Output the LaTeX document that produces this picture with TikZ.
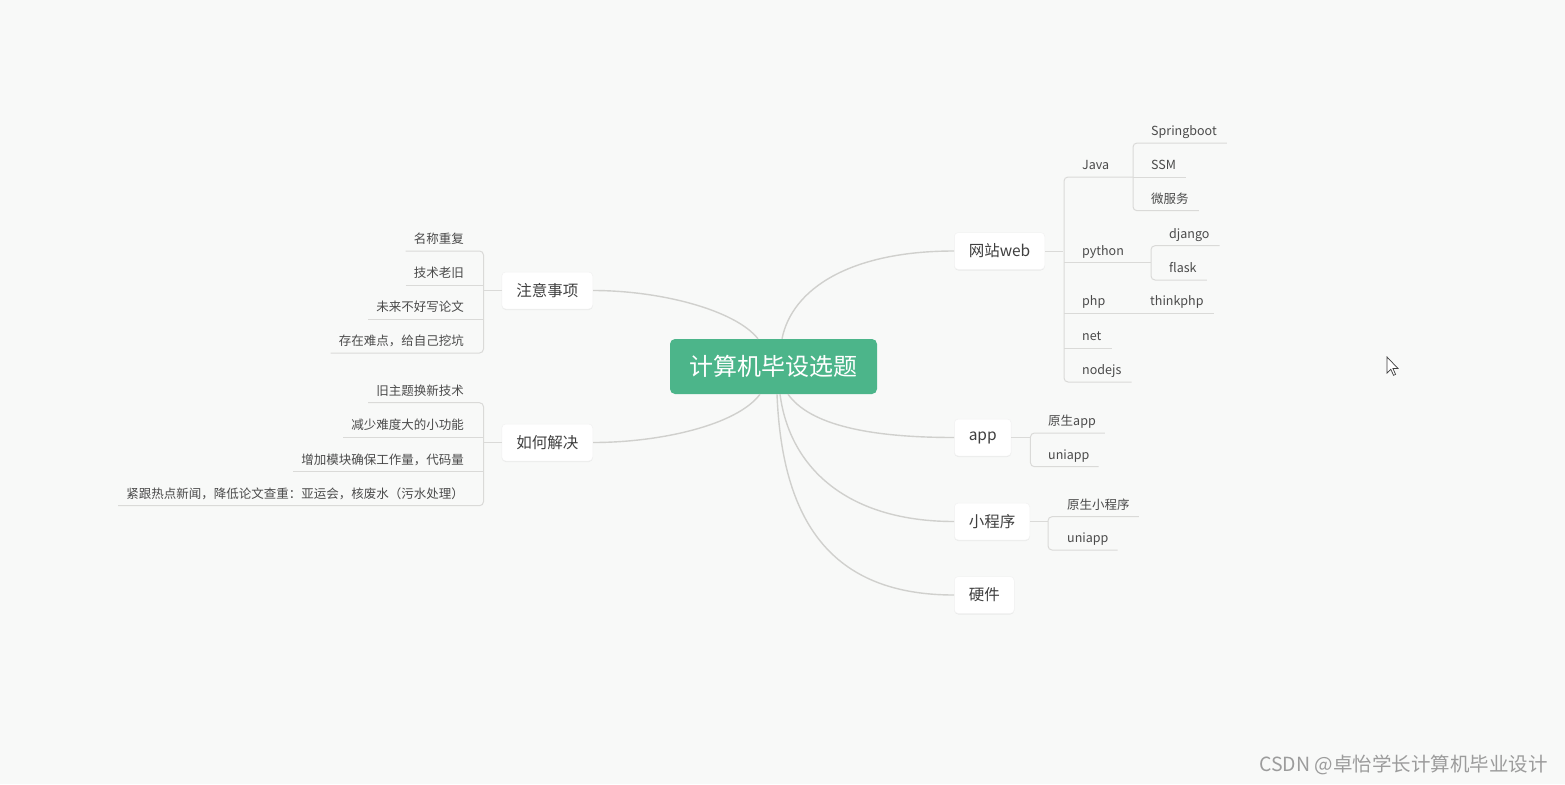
\documentclass[tikz,border=0pt]{standalone}
\usepackage{fontspec}
\setmainfont{Noto Sans CJK SC}
\usetikzlibrary{shadows}
\definecolor{bgc}{HTML}{F8F9F8}
\definecolor{greenc}{HTML}{4CB58A}
\definecolor{curvec}{HTML}{D0D0CD}
\definecolor{leafline}{HTML}{DADAD8}
\definecolor{txtc}{HTML}{3F3F3F}
\definecolor{leaftxt}{HTML}{4A4A4A}
\definecolor{wmc}{HTML}{9C9C9C}
\begin{document}
\begin{tikzpicture}[x=1pt,y=-1pt,
  root/.style={fill=greenc, rounded corners=5pt, text=white, font=\fontsize{24}{28}\selectfont, minimum width=207pt, minimum height=55pt, inner sep=0pt},
  topic/.style={fill=white, rounded corners=4pt, draw=black!5, line width=0.5pt, text=txtc, font=\fontsize{15.5}{18}\selectfont, minimum height=37pt, inner xsep=14.5pt, inner ysep=0pt, drop shadow={shadow xshift=0pt, shadow yshift=-1pt, opacity=0.06, fill=black}},
  leaf/.style={text=leaftxt, font=\fontsize{12.5}{15}\selectfont, inner sep=0pt},
  leafR/.style={leaf, anchor=base west},
  leafL/.style={leaf, anchor=base east},
  curve/.style={draw=curvec, line width=1.4pt},
  lline/.style={draw=leafline, line width=1pt, rounded corners=4pt},
  cursorsh/.style={fill=white, draw=black!75, line width=0.7pt, line join=miter}
]
\fill[bgc] (0,0) rectangle (1565,784);
\useasboundingbox (0,0) rectangle (1565,784);

% ---- main nodes
\node[root] (c) at (773.5,366.5) {计算机毕设选题};
\node[topic, anchor=east] (zy) at (593,290.5) {注意事项};
\node[topic, anchor=east] (rh) at (593,442.5) {如何解决};
\node[topic, anchor=west] (web) at (954,251) {网站web};
\node[topic, anchor=west] (app) at (954,437.5) {app};
\node[topic, anchor=west] (xcx) at (954,521.5) {小程序};
\node[topic, anchor=west] (yj) at (954,595) {硬件};

% ---- main curves
\draw[curve] ([xshift=-15.5]c.north) .. controls +(-23,-29) and +(67,0) .. (zy.east);
\draw[curve] ([xshift=-13.5]c.south) .. controls +(-23,31) and +(67,0) .. (rh.east);
\draw[curve] ([xshift=8.5]c.north) .. controls +(10,-50) and +(-104,0) .. (web.west);
\draw[curve] ([xshift=14.5]c.south) .. controls +(22,31) and +(-84,0) .. (app.west);
\draw[curve] ([xshift=6.5]c.south) .. controls +(10,76) and +(-104,0) .. (xcx.west);
\draw[curve] ([xshift=3.5]c.south) .. controls +(5,126) and +(-124,0) .. (yj.west);

% ---- 注意事项
\node[leafL] (a1) at (464,243.7) {名称重复};
\node[leafL] (a2) at (464,277.7) {技术老旧};
\node[leafL] (a3) at (464,311.7) {未来不好写论文};
\node[leafL] (a4) at (464,345.7) {存在难点，给自己挖坑};
\coordinate (zyj) at ([xshift=-18]zy.west);
\foreach \n in {a1,a2,a3,a4}{\coordinate (\n u) at ([shift={(-8,7.3)}]\n.base west);}
\draw[lline] (a1u) -- (a1u -| zyj) -- (a4u -| zyj) -- (a4u);
\draw[lline] (a2u) -- (a2u -| zyj);
\draw[lline] (a3u) -- (a3u -| zyj);
\draw[lline] (zy.west) -- (zyj);

% ---- 如何解决
\node[leafL] (b1) at (464,395.4) {旧主题换新技术};
\node[leafL] (b2) at (464,429.7) {减少难度大的小功能};
\node[leafL] (b3) at (464,464.4) {增加模块确保工作量，代码量};
\node[leafL] (b4) at (464,498.4) {紧跟热点新闻，降低论文查重：亚运会，核废水（污水处理）};
\coordinate (rhj) at ([xshift=-18]rh.west);
\foreach \n in {b1,b2,b3,b4}{\coordinate (\n u) at ([shift={(-8,7.3)}]\n.base west);}
\draw[lline] (b1u) -- (b1u -| rhj) -- (b4u -| rhj) -- (b4u);
\draw[lline] (b2u) -- (b2u -| rhj);
\draw[lline] (b3u) -- (b3u -| rhj);
\draw[lline] (rh.west) -- (rhj);

% ---- 网站web
\node[leafR] (java) at (1082,169.7) {Java};
\node[leafR] (py) at (1082,255.4) {python};
\node[leafR] (php) at (1082,305.7) {php};
\node[leafR] (net) at (1082,340.7) {net};
\node[leafR] (nodejs) at (1082,374.7) {nodejs};
\node[leafR] (sb) at (1151,135.7) {Springboot};
\node[leafR] (ssm) at (1151,169.7) {SSM};
\node[leafR] (wfw) at (1151,203.4) {微服务};
\node[leafR] (dj) at (1169,238.4) {django};
\node[leafR] (fl) at (1169,272.7) {flask};
\node[leafR] (tp) at (1150,305.7) {thinkphp};
\coordinate (webj) at ([xshift=18]web.east);
\foreach \n in {java,py,php,net,nodejs,sb,ssm,wfw,dj,fl,tp}{
  \coordinate (\n L) at ([shift={(-18,7.3)}]\n.base west);
  \coordinate (\n R) at ([shift={(10,7.3)}]\n.base east);}
\draw[lline] (web.east) -- (webj);
\draw[lline] (javaL -| sbL) -- (javaL) -- (nodejsL) -- (nodejsR);
\draw[lline] (sbR) -- (sbR -| sbL) -- (wfwR -| sbL) -- (wfwR);
\draw[lline] (ssmL) -- (ssmR);
\draw[lline] (pyL) -- (pyL -| djL);
\draw[lline] (djR) -- (djR -| djL) -- (flR -| djL) -- (flR);
\draw[lline] (phpL) -- (tpR);
\draw[lline] (netL) -- (netR);

% ---- app
\node[leafR] (ya) at (1048,425.7) {原生app};
\node[leafR] (ua) at (1048,459.4) {uniapp};
\coordinate (appj) at ([xshift=19]app.east);
\foreach \n in {ya,ua}{\coordinate (\n R) at ([shift={(9,7.3)}]\n.base east);}
\draw[lline] (app.east) -- (appj);
\draw[lline] (yaR) -- (yaR -| appj) -- (uaR -| appj) -- (uaR);

% ---- 小程序
\node[leafR] (yx) at (1067,509.4) {原生小程序};
\node[leafR] (ux) at (1067,542.7) {uniapp};
\coordinate (xcxj) at ([xshift=18]xcx.east);
\foreach \n in {yx,ux}{\coordinate (\n R) at ([shift={(9,7.3)}]\n.base east);}
\draw[lline] (xcx.east) -- (xcxj);
\draw[lline] (yxR) -- (yxR -| xcxj) -- (uxR -| xcxj) -- (uxR);

% ---- cursor
\draw[cursorsh] (1387,357) -- ++(0,16) -- ++(3.8,-3.7) -- ++(2.7,6) -- ++(2.1,-0.9) -- ++(-2.7,-5.9) -- ++(5.1,0) -- cycle;

% ---- watermark
\node[anchor=east, text=wmc, font=\fontsize{19.5}{22}\selectfont, inner sep=0pt] (wm) at (1548,765) {CSDN @卓怡学长计算机毕业设计};
\end{tikzpicture}
\end{document}
